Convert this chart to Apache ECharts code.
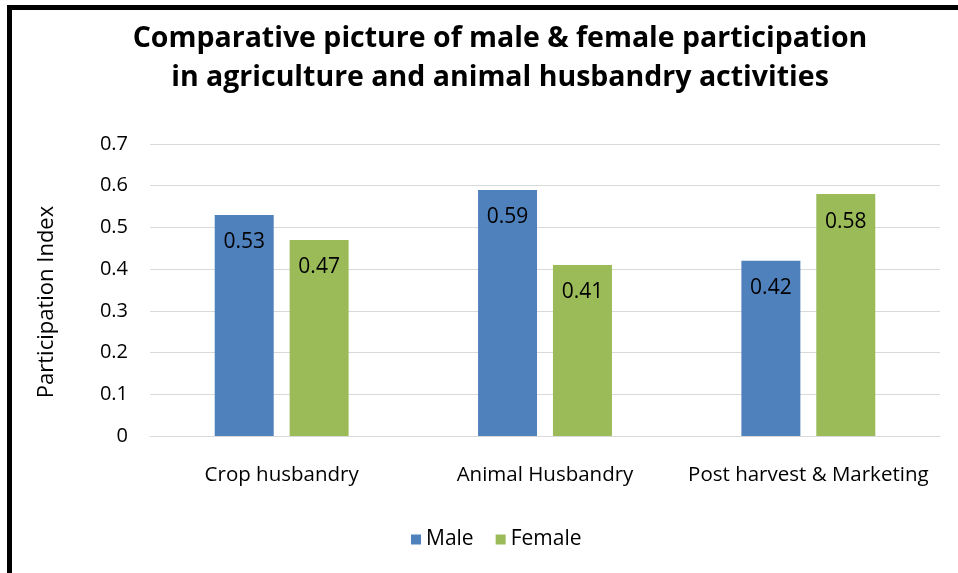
<!DOCTYPE html>
<html>
<head>
<meta charset="utf-8">
<script src="https://cdn.jsdelivr.net/npm/echarts@6/dist/echarts.min.js"></script>
<style>
html,body{margin:0;padding:0;background:#fff;}
#c{width:958px;height:573px;}
</style>
</head>
<body>
<div id="c"></div>
<script>
const categories = ['Crop husbandry', 'Animal Husbandry', 'Post harvest & Marketing'];
const maleValues = [0.53, 0.59, 0.42];
const femaleValues = [0.47, 0.41, 0.58];
const seriesNames = ['Male', 'Female'];
const yTicks = [0, 0.1, 0.2, 0.3, 0.4, 0.5, 0.6, 0.7];

const FONT = "'Open Sans', sans-serif";
const chart = echarts.init(document.getElementById('c'), null, {renderer: 'canvas'});
const labelCfg = {
  show: true, position: 'insideTop', distance: 17, color: '#000',
  fontSize: 21, fontFamily: FONT,
  formatter: p => p.value.toFixed(2)
};
chart.setOption({
  backgroundColor: '#fff',
  animation: false,
  graphic: [
    {type: 'line', shape: {x1: 9.5, y1: 7.5, x2: 958, y2: 7.5}, style: {stroke: '#000', lineWidth: 5}},
    {type: 'line', shape: {x1: 9.5, y1: 5, x2: 9.5, y2: 573}, style: {stroke: '#000', lineWidth: 5}}
  ],
  title: {
    text: 'Comparative picture of male & female participation\nin agriculture and animal husbandry activities',
    left: 495, top: 14, textAlign: 'center',
    textStyle: {fontSize: 28.5, fontWeight: 'bold', fontFamily: FONT, color: '#000', lineHeight: 39}
  },
  legend: {
    data: seriesNames, bottom: 18, left: 406, itemWidth: 10, itemHeight: 10, itemGap: 22,
    icon: 'rect',
    textStyle: {fontSize: 21, fontFamily: FONT, color: '#000'}
  },
  grid: {left: 150, right: 18, top: 144, bottom: 137},
  xAxis: {
    type: 'category', data: categories,
    axisLine: {lineStyle: {color: '#D9D9D9'}},
    axisTick: {show: false},
    axisLabel: {fontSize: 20.5, fontFamily: FONT, color: '#000', margin: 29, interval: 0}
  },
  yAxis: {
    type: 'value', min: 0, max: 0.7, interval: 0.1,
    name: 'Participation Index', nameLocation: 'middle', nameGap: 92, nameRotate: 90,
    nameTextStyle: {fontSize: 22, fontFamily: FONT, color: '#000', padding: [0, 24, 0, 0]},
    axisLine: {show: false}, axisTick: {show: false},
    splitLine: {lineStyle: {color: '#D9D9D9'}},
    axisLabel: {fontSize: 20, fontFamily: FONT, color: '#000', margin: 22,
      formatter: v => { const t = yTicks.find(x => Math.abs(x - v) < 1e-9); return t === 0 ? '0' : String(t); }}
  },
  series: [
    {name: seriesNames[0], type: 'bar', data: maleValues, barWidth: '22.4%', barGap: '27%',
     itemStyle: {color: '#4F81BD'}, label: labelCfg},
    {name: seriesNames[1], type: 'bar', data: femaleValues, barWidth: '22.4%',
     itemStyle: {color: '#9BBB59'}, label: labelCfg}
  ]
});
</script>
</body>
</html>
